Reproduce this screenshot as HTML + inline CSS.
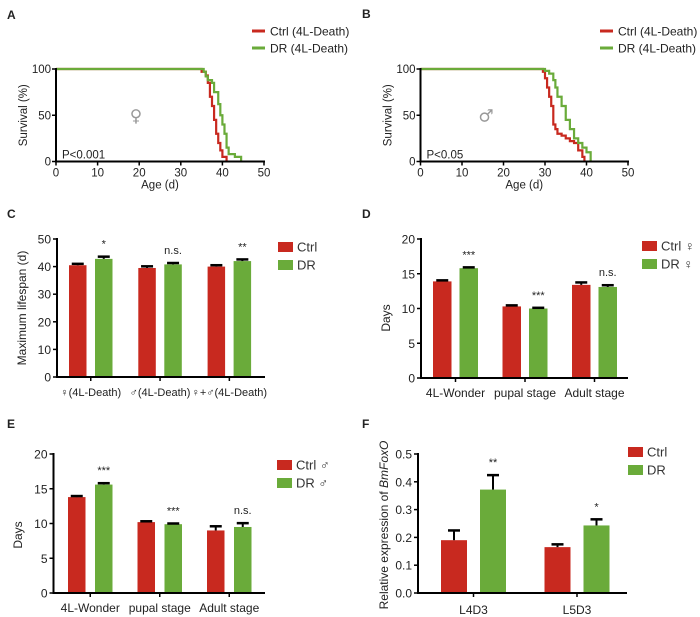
<!DOCTYPE html>
<html><head><meta charset="utf-8">
<style>
html,body{margin:0;padding:0;background:#fff;}
svg{display:block;font-family:"Liberation Sans",Arial,sans-serif;}
</style></head>
<body>
<svg id="fig" width="700" height="617" viewBox="0 0 700 617" xmlns="http://www.w3.org/2000/svg"></svg>
<script>
// Panel A data (age, survival %)
const aCtrlAge = [0,33,35,36,36.5,37,37.5,38,38.5,39,39.5,40,41];
const aCtrlSurv = [100,100,97,93,85,70,60,45,30,20,12,5,0];
const aDrAge = [0,35,35.5,36,36.5,37.5,38,39,39.5,40,40.5,41,41.5,43,44.5];
const aDrSurv = [100,100,97,92,88,85,75,62,50,40,30,15,8,5,0];
// Panel B data
const bCtrlAge = [0,29,29.5,30,30.5,31,31.5,32,32.5,33,34,35,36,37,38,39,39.5];
const bCtrlSurv = [100,100,97,90,80,70,60,40,35,30,28,25,22,20,12,5,0];
const bDrAge = [0,29.5,30,31,32,32.5,33,34,35,36,37,38,39,40,41];
const bDrSurv = [100,100,98,95,88,80,70,60,45,35,25,20,15,10,0];
const survTicksX = [0,10,20,30,40,50];
const survTicksY = [0,50,100];
// Panel C
const cCats = ["\u2640(4L-Death)","\u2642(4L-Death)","\u2640+\u2642(4L-Death)"];
const cCtrl = [40.5,39.5,40.0];
const cDr = [42.8,40.8,42.0];
const cCtrlErr = [0.5,0.6,0.5];
const cDrErr = [0.8,0.5,0.6];
const cSig = ["*","n.s.","**"];
const cTicks = [0,10,20,30,40,50];
// Panel D
const dCats = ["4L-Wonder","pupal stage","Adult stage"];
const dCtrl = [13.9,10.3,13.4];
const dDr = [15.8,10.0,13.1];
const dCtrlErr = [0.15,0.15,0.35];
const dDrErr = [0.12,0.1,0.25];
const dSig = ["***","***","n.s."];
const dTicks = [0,5,10,15,20];
// Panel E
const eCats = ["4L-Wonder","pupal stage","Adult stage"];
const eCtrl = [13.8,10.2,9.0];
const eDr = [15.6,9.9,9.5];
const eCtrlErr = [0.15,0.12,0.6];
const eDrErr = [0.2,0.1,0.55];
const eSig = ["***","***","n.s."];
const eTicks = [0,5,10,15,20];
// Panel F
const fCats = ["L4D3","L5D3"];
const fCtrl = [0.19,0.165];
const fDr = [0.372,0.243];
const fCtrlErr = [0.035,0.01];
const fDrErr = [0.052,0.022];
const fSig = ["**","*"];
const fTicks = ["0.0","0.1","0.2","0.3","0.4","0.5"];

const RED="#c8291f", GREEN="#6aab3a";
const NS="http://www.w3.org/2000/svg";
const svg=document.getElementById('fig');
function mk(tag,attrs,parent){const e=document.createElementNS(NS,tag);for(const k in attrs)e.setAttribute(k,attrs[k]);(parent||svg).appendChild(e);return e;}
function txt(s,x,y,size,anchor,parent,extra){const t=mk('text',Object.assign({x:x,y:y,'font-size':size,'text-anchor':anchor||'start',fill:'#222'},extra||{}),parent);t.textContent=s;return t;}

function panelLabel(s,x,y){const t=txt(s,x,y,12,'start',svg,{'font-weight':'bold'});

}

function legendLines(g,x,y,labels,colors){
  labels.forEach((l,i)=>{
    const ln=mk('line',{x1:x,x2:x+13,y1:y+i*17,y2:y+i*17,stroke:colors[i],'stroke-width':3},g);
    
    
    const t=txt(l,x+18,y+i*17+4.5,12,'start',g);
    
    
  });
}
function legendRects(g,x,y,labels,colors,gap){
  labels.forEach((l,i)=>{
    const r=mk('rect',{x:x,y:y+i*gap,width:15,height:10,fill:colors[i]},g);
    
    
    const t=txt(l,x+19,y+i*gap+9.5,13,'start',g,{fill:'#333'});
    
    
  });
}

function survival(name,x0,x1,y100,y0,ctrlA,ctrlS,drA,drS,sym,symX,pText,legX){
  const g=mk('g',{});
  
  
  const sx=v=>x0+(x1-x0)*v/50, sy=v=>y0+(y100-y0)*v/100;
  function step(ages,surv,color){
    let d='M'+sx(ages[0])+','+sy(surv[0]);
    for(let i=1;i<ages.length;i++){d+=' H'+sx(ages[i])+' V'+sy(surv[i]);}
    const p=mk('path',{d:d,fill:'none',stroke:color,'stroke-width':2.2},g);
    
    
  }
  step(ctrlA,ctrlS,RED); step(drA,drS,GREEN);
  mk('line',{x1:x0,x2:x0,y1:y100-1,y2:y0+1,stroke:'#000','stroke-width':2},g);
  mk('line',{x1:x0-1,x2:x1+1,y1:y0,y2:y0,stroke:'#000','stroke-width':2},g);
  survTicksX.forEach(v=>{mk('line',{x1:sx(v),x2:sx(v),y1:y0,y2:y0+4,stroke:'#000','stroke-width':1.5},g);
    const t=txt(v,sx(v),y0+15,11.5,'middle',g);});
  survTicksY.forEach(v=>{mk('line',{x1:x0-4,x2:x0,y1:sy(v),y2:sy(v),stroke:'#000','stroke-width':1.5},g);
    const t=txt(v,x0-5,sy(v)+4,11.5,'end',g);});
  const xt=txt('Age (d)',(x0+x1)/2,y0+27,11.5,'middle',g);
  const yt=txt('Survival (%)',0,0,11.5,'middle',g,{transform:`translate(${x0-29},${(y0+y100)/2}) rotate(-90)`});
  
  const s=txt(sym,symX,(y0+y100)/2+6,17,'middle',g,{fill:'#999','font-family':'"DejaVu Sans",sans-serif'});
  const pt=txt(pText,x0+6,y0-3,11.5,'start',g);
  legendLines(g,legX,31,["Ctrl (4L-Death)","DR (4L-Death)"],[RED,GREEN]);
}

function bars(name,x0,x1,yTop,y0,ymax,cats,ctrl,dr,ce,de,sig,ticks,groupW,barW,gapIn,firstOff,labelY,labelSize){
  const g=mk('g',{});
  
  
  const sy=v=>y0-(y0-yTop)*v/ymax;
  cats.forEach((c,i)=>{
    const gx=x0+firstOff+i*groupW;
    [[ctrl[i],ce[i],RED,gx],[dr[i],de[i],GREEN,gx+barW+gapIn]].forEach(([v,e,col,bx],j)=>{
      const r=mk('rect',{x:bx,y:sy(v),width:barW,height:y0-sy(v),fill:col},g);
      
      
      const cx=bx+barW/2;
      mk('line',{x1:cx,x2:cx,y1:sy(v),y2:sy(v+e),stroke:'#000','stroke-width':2},g);
      mk('line',{x1:cx-6,x2:cx+6,y1:sy(v+e),y2:sy(v+e),stroke:'#000','stroke-width':2.5},g);
    });
    const center=gx+barW+gapIn/2;
    const st=txt(sig[i],gx+barW+gapIn+barW/2,sy(dr[i]+de[i])-9,11,'middle',g);
    
    mk('line',{x1:center,x2:center,y1:y0,y2:y0+4,stroke:'#000','stroke-width':1.5},g);
    const ct=txt(c,center,labelY,labelSize||12,'middle',g);
    
  });
  mk('line',{x1:x0,x2:x0,y1:yTop-1,y2:y0+1,stroke:'#000','stroke-width':2},g);
  mk('line',{x1:x0-1,x2:x1,y1:y0,y2:y0,stroke:'#000','stroke-width':2},g);
  ticks.forEach(tv=>{const v=parseFloat(tv);
    mk('line',{x1:x0-4,x2:x0,y1:sy(v),y2:sy(v),stroke:'#000','stroke-width':1.5},g);
    const t=txt(tv,x0-6,sy(v)+4.5,12,'end',g);});
  return {g,sy};
}

panelLabel('A',7,19);panelLabel('B',362,18);panelLabel('C',7,218);panelLabel('D',362,218);panelLabel('E',7,428);panelLabel('F',362,428);

survival('survival-chart-a',56,264,69,161.5,aCtrlAge,aCtrlSurv,aDrAge,aDrSurv,'\u2640',136,'P<0.001',252);
survival('survival-chart-b',420.5,628,69,161.5,bCtrlAge,bCtrlSurv,bDrAge,bDrSurv,'\u2642',486,'P<0.05',600);

let c=bars('bar-chart-c',57,265,239,377,50,cCats,cCtrl,cDr,cCtrlErr,cDrErr,cSig,cTicks.map(String),69.3,17.5,8.5,12,396,11);
let t=txt('Maximum lifespan (d)',0,0,12,'middle',c.g,{transform:'translate(26,308) rotate(-90)'});
legendRects(c.g,278,242,["Ctrl","DR"],[RED,GREEN],18);

let d=bars('bar-chart-d',421,628,239,378,20,dCats,dCtrl,dDr,dCtrlErr,dDrErr,dSig,dTicks.map(String),69.5,18.5,8,12,397);
t=txt('Days',0,0,12,'middle',d.g,{transform:'translate(390,318) rotate(-90)'});
legendRects(d.g,642,241,["Ctrl \u2640","DR \u2640"],[RED,GREEN],18);

let e=bars('bar-chart-e',53.5,265,454,593,20,eCats,eCtrl,eDr,eCtrlErr,eDrErr,eSig,eTicks.map(String),69.5,17.5,9.5,14.5,612);
t=txt('Days',0,0,12,'middle',e.g,{transform:'translate(22,535) rotate(-90)'});
legendRects(e.g,277,460,["Ctrl \u2642","DR \u2642"],[RED,GREEN],18);

let f=bars('bar-chart-f',418,627,454,593,0.5,fCats,fCtrl,fDr,fCtrlErr,fDrErr,fSig,fTicks,103.5,26,13,23,614);
t=mk('text',{'font-size':12,'text-anchor':'middle',fill:'#222',transform:'translate(388,525) rotate(-90)'},f.g);

t.appendChild(document.createTextNode('Relative expression of '));
const it=mk('tspan',{'font-style':'italic'},t);it.textContent='BmFoxO';
legendRects(f.g,628,447,["Ctrl","DR"],[RED,GREEN],18);
</script>
</body></html>
